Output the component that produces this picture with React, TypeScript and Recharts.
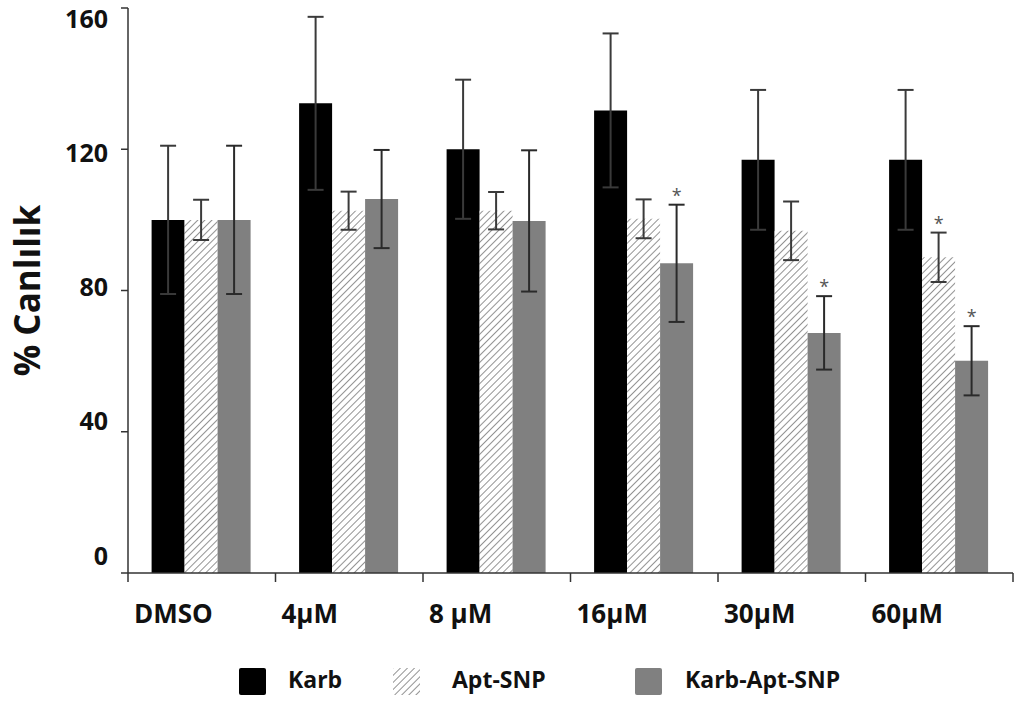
import { BarChart, Bar, XAxis, YAxis, ErrorBar, LabelList, Label } from "recharts";

const categories = ["DMSO", "4µM", "8 µM", "16µM", "30µM", "60µM"];
const karb = [100, 133, 120, 131, 117, 117];
const karbErr = [21, 24.5, 19.7, 21.8, 19.8, 19.8];
const apt = [100, 102.6, 102.6, 100.3, 96.9, 89.4];
const aptErr = [5.7, 5.4, 5.3, 5.5, 8.3, 7];
const kas = [100, 105.9, 99.7, 87.7, 68, 60.1];
const kasErr = [21, 13.9, 20, 16.6, 10.4, 9.8];
const aptStar = [false, false, false, false, false, true];
const kasStar = [false, false, false, true, true, true];
const yTicks = [0, 40, 80, 120, 160];

const data = categories.map((name, i) => ({
    name,
    karb: karb[i],
    karbErr: karbErr[i],
    apt: apt[i],
    aptErr: aptErr[i],
    kas: kas[i],
    kasErr: kasErr[i],
}));

const W = 1017;
const H = 707;
const margin = { top: 8, right: 4, bottom: 74, left: 0 };
const yAxisWidth = 128;
const band = (W - margin.left - margin.right - yAxisWidth) / categories.length;
const font = "'Open Sans', 'Liberation Sans', sans-serif";

// star above the error bar, position taken from the bar's own scale
const starLabel = (vals: number[], errs: number[], flags: boolean[]) => (props: any) => {
    const vb = props.viewBox || props;
    const { x, y, width, height } = vb;
    const i = props.index;
    if (!flags[i]) return null;
    const pxPerUnit = height / vals[i];
    const top = y - errs[i] * pxPerUnit;
    return (
        <text x={x + width / 2} y={top - 3} textAnchor="middle" fontSize={18} fill="#555" fontFamily={font}>
            *
        </text>
    );
};

const XTick = (props: any) => {
    const { x, y, payload, index } = props;
    const left = x - band / 2;
    return (
        <g>
            <line x1={left} x2={left} y1={y} y2={y + 9} stroke="#333" strokeWidth={1.5} />
            {index === categories.length - 1 && (
                <line x1={left + band} x2={left + band} y1={y} y2={y + 9} stroke="#333" strokeWidth={1.5} />
            )}
            <text x={left + 6} y={y + 50} textAnchor="start" fontSize={26} fontWeight={700} fill="#111" fontFamily={font}>
                {payload.value}
            </text>
        </g>
    );
};

// the printed tick labels sit a little off their ticks, lower ones higher
const YTick = (props: any) => {
    const { x, y, payload } = props;
    const shift = payload.value * 0.17 - 17;
    return (
        <text x={x} y={y + shift} dy="0.355em" textAnchor="end" fontSize={25} fontWeight={700} fill="#111" fontFamily={font}>
            {payload.value}
        </text>
    );
};

const Hatch = ({ id }: { id: string }) => (
    <pattern id={id} width="5" height="5" patternUnits="userSpaceOnUse" patternTransform="rotate(45)">
        <rect width="5" height="5" fill="#fff" />
        <line x1="0" y1="0" x2="0" y2="5" stroke="#777" strokeWidth="1.6" />
    </pattern>
);

const legendItems = [
    { name: "Karb", fill: "#000", box: 239, text: 288 },
    { name: "Apt-SNP", fill: "url(#hatchLegend)", box: 393, text: 452 },
    { name: "Karb-Apt-SNP", fill: "#808080", box: 635, text: 685 },
];

export default function App() {
    return (
        <div style={{ position: "absolute", left: 0, top: 0, width: W, height: H, background: "#fff" }}>
            <BarChart width={W} height={H} data={data} margin={margin} barCategoryGap="16%" barGap={0}>
                <defs>
                    <Hatch id="hatch" />
                </defs>
                <XAxis
                    dataKey="name"
                    height={60}
                    tickLine={false}
                    tickSize={0}
                    tickMargin={0}
                    tick={<XTick />}
                    interval={0}
                    axisLine={{ stroke: "#333", strokeWidth: 1.5 }}
                />
                <YAxis
                    width={yAxisWidth}
                    domain={[0, 160]}
                    ticks={yTicks}
                    tickSize={7}
                    tickMargin={13}
                    axisLine={{ stroke: "#333", strokeWidth: 1.5 }}
                    tickLine={{ stroke: "#333", strokeWidth: 1.5 }}
                    tick={<YTick />}
                >
                    <Label
                        value="% Canlılık"
                        angle={-90}
                        position="center"
                        dx={-36}
                        style={{ fontSize: 35, fontWeight: 700, fill: "#111", fontFamily: font, textAnchor: "middle" }}
                    />
                </YAxis>
                <Bar dataKey="karb" fill="#000" isAnimationActive={false}>
                    <ErrorBar dataKey="karbErr" width={8} strokeWidth={2} stroke="#3a3a3a" />
                </Bar>
                <Bar dataKey="apt" fill="url(#hatch)" isAnimationActive={false}>
                    <ErrorBar dataKey="aptErr" width={8} strokeWidth={2} stroke="#3a3a3a" />
                    <LabelList dataKey="apt" content={starLabel(apt, aptErr, aptStar)} />
                </Bar>
                <Bar dataKey="kas" fill="#808080" isAnimationActive={false}>
                    <ErrorBar dataKey="kasErr" width={8} strokeWidth={2} stroke="#2a2a2a" />
                    <LabelList dataKey="kas" content={starLabel(kas, kasErr, kasStar)} />
                </Bar>
            </BarChart>
            <svg style={{ position: "absolute", left: 0, top: 0 }} width={W} height={H} pointerEvents="none">
                <defs>
                    <Hatch id="hatchLegend" />
                </defs>
                {legendItems.map((it) => (
                    <g key={it.name}>
                        <rect x={it.box} y={668} width={27} height={27} rx={2} fill={it.fill} />
                        <text x={it.text} y={688} fontSize={23} fontWeight={700} fill="#111" fontFamily={font}>
                            {it.name}
                        </text>
                    </g>
                ))}
            </svg>
        </div>
    );
}
